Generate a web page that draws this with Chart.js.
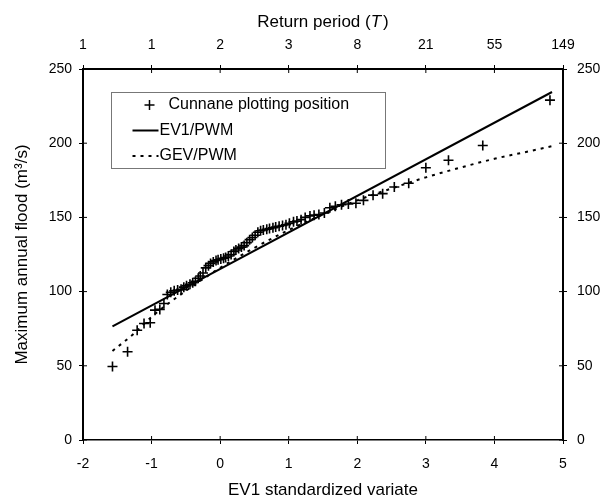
<!DOCTYPE html>
<html>
<head>
<meta charset="utf-8">
<script src="https://cdn.jsdelivr.net/npm/chart.js@4/dist/chart.umd.min.js"></script>
<style>
  html, body { margin: 0; padding: 0; background: #fff; }
  #wrap { width: 614px; height: 504px; }
</style>
</head>
<body>
<div id="wrap"><canvas id="floodChart" width="614" height="504"></canvas></div>
<script>
// EV1 reduced variate of each Cunnane plotting position
const plotPosX = [-1.57, -1.35, -1.21, -1.11, -1.02, -0.95, -0.88, -0.82, -0.77, -0.72,
  -0.67, -0.62, -0.57, -0.53, -0.49, -0.44, -0.40, -0.36, -0.32, -0.29,
  -0.25, -0.21, -0.17, -0.14, -0.10, -0.06, -0.03, 0.01, 0.05, 0.08,
  0.12, 0.16, 0.20, 0.23, 0.27, 0.31, 0.35, 0.39, 0.43, 0.47,
  0.51, 0.55, 0.59, 0.63, 0.68, 0.72, 0.77, 0.81, 0.86, 0.91,
  0.96, 1.01, 1.07, 1.12, 1.18, 1.24, 1.31, 1.37, 1.44, 1.52,
  1.60, 1.68, 1.77, 1.87, 1.98, 2.09, 2.23, 2.37, 2.54, 2.75,
  3.00, 3.33, 3.83, 4.81];
// observed annual maximum flood (m3/s), sorted
const annualFlood = [49.5, 59.5, 74, 78.5, 79, 87.5, 88, 92, 98, 99.5,
  100.5, 101, 101.5, 103, 104, 105, 106, 107, 109, 110.5,
  112.5, 116, 117.5, 119, 120, 121, 121.5, 122, 122.5, 123,
  124, 125, 127, 128, 129, 130, 131, 133, 135, 136.5,
  138, 140, 141, 141.5, 142, 142.5, 143, 143.5, 144, 144.5,
  145, 146, 147, 147.5, 148.5, 150, 151, 151.5, 152, 153,
  156.5, 157.5, 158.5, 159, 159.5, 161.5, 165, 166, 170.5, 173,
  183.5, 188.5, 198.5, 229];

// fitted distributions
const ev1X = [-1.57, 4.84];
const ev1Flow = [76.5, 234.5];
const gevX = [-1.57, -1.25, -1, -0.5, 0, 0.5, 1, 1.5, 2, 2.5, 3, 3.5, 4, 4.5, 4.84];
const gevFlow = [60, 72, 83, 100.5, 116, 129.5, 141.5, 152, 161.5, 169.5, 177, 183.5, 189.5, 194.5, 198];

const variateTicks = [-2, -1, 0, 1, 2, 3, 4, 5];
const returnPeriodLabels = ['1', '1', '2', '3', '8', '21', '55', '149'];
const flowTicks = [0, 50, 100, 150, 200, 250];

const FONT = 'Liberation Sans, Arial, sans-serif';

const pts = (xs, ys) => xs.map((x, i) => ({ x: x, y: ys[i] }));

const tickFont = { family: FONT, size: 14 };
const titleFont = { family: FONT, size: 17 };

function axisGrid() {
  return { drawOnChartArea: false, drawTicks: true, tickLength: 4, color: '#000', lineWidth: 1 };
}

// tick marks that cross the axis lines, top title with italic T, boxed legend
const extras = {
  id: 'extras',
  afterDraw(chart) {
    const ctx = chart.ctx;
    const a = chart.chartArea;
    const s = chart.scales;
    ctx.save();
    ctx.strokeStyle = '#000';
    ctx.lineWidth = 1;
    ctx.beginPath();
    variateTicks.forEach(v => {
      const px = s.x.getPixelForValue(v);
      ctx.moveTo(px, a.bottom); ctx.lineTo(px, a.bottom - 4);
      ctx.moveTo(px, a.top); ctx.lineTo(px, a.top + 4);
    });
    flowTicks.forEach(v => {
      const py = s.y.getPixelForValue(v);
      ctx.moveTo(a.left, py); ctx.lineTo(a.left + 4, py);
      ctx.moveTo(a.right, py); ctx.lineTo(a.right - 4, py);
    });
    ctx.stroke();

    // top title
    ctx.fillStyle = '#000';
    ctx.textBaseline = 'middle';
    const p1 = 'Return period (', p2 = 'T', p3 = ')';
    ctx.font = '17px ' + FONT;
    const w1 = ctx.measureText(p1).width, w3 = ctx.measureText(p3).width;
    ctx.font = 'italic 17px ' + FONT;
    const w2 = ctx.measureText(p2).width;
    const tx = (a.left + a.right) / 2 - (w1 + w2 + w3 + 2) / 2;
    const ty = 22;
    ctx.textAlign = 'left';
    ctx.font = '17px ' + FONT;
    ctx.fillText(p1, tx, ty);
    ctx.font = 'italic 17px ' + FONT;
    ctx.fillText(p2, tx + w1, ty);
    ctx.font = '17px ' + FONT;
    ctx.fillText(p3, tx + w1 + w2 + 2, ty);

    // legend box
    const bx = a.left + 28.5, by = a.top + 23.5, bw = 274, bh = 76;
    ctx.fillStyle = '#fff';
    ctx.fillRect(bx, by, bw, bh);
    ctx.strokeStyle = '#777';
    ctx.strokeRect(bx, by, bw, bh);
    ctx.fillStyle = '#000';
    ctx.font = '16px ' + FONT;
    const rows = [by + 12.5, by + 38, by + 63.5];
    const ds = chart.data.datasets;
    // marker entry
    ctx.strokeStyle = '#000';
    ctx.lineWidth = 1.5;
    ctx.beginPath();
    ctx.moveTo(bx + 38 - 5, rows[0]); ctx.lineTo(bx + 38 + 5, rows[0]);
    ctx.moveTo(bx + 38, rows[0] - 5); ctx.lineTo(bx + 38, rows[0] + 5);
    ctx.stroke();
    ctx.fillText(ds[0].label, bx + 57, rows[0]);
    // line entries
    [1, 2].forEach(k => {
      ctx.beginPath();
      ctx.lineWidth = ds[k].borderWidth;
      ctx.setLineDash(ds[k].borderDash || []);
      ctx.moveTo(bx + 21, rows[k]); ctx.lineTo(bx + 47, rows[k]);
      ctx.stroke();
      ctx.setLineDash([]);
      ctx.fillText(ds[k].label, bx + 48, rows[k]);
    });
    ctx.restore();
  }
};

new Chart(document.getElementById('floodChart'), {
  type: 'scatter',
  data: {
    datasets: [
      {
        label: 'Cunnane plotting position',
        data: pts(plotPosX, annualFlood),
        pointStyle: 'cross',
        pointRadius: 5,
        pointBorderWidth: 1.6,
        borderColor: '#000',
        backgroundColor: '#000',
        showLine: false
      },
      {
        label: 'EV1/PWM',
        data: pts(ev1X, ev1Flow),
        showLine: true,
        borderColor: '#000',
        borderWidth: 2,
        pointRadius: 0
      },
      {
        label: 'GEV/PWM',
        data: pts(gevX, gevFlow),
        showLine: true,
        borderColor: '#000',
        borderWidth: 2,
        borderDash: [3, 5],
        cubicInterpolationMode: 'monotone',
        pointRadius: 0
      }
    ]
  },
  options: {
    responsive: false,
    devicePixelRatio: 1,
    animation: false,
    layout: { padding: 0 },
    plugins: { legend: { display: false }, tooltip: { enabled: false } },
    scales: {
      x: {
        type: 'linear', position: 'bottom', min: -2, max: 5,
        afterBuildTicks: s => { s.ticks = variateTicks.map(v => ({ value: v })); },
        ticks: { font: tickFont, color: '#000', padding: 12, maxRotation: 0 },
        grid: axisGrid(),
        border: { display: true, color: '#000', width: 1.5 },
        title: { display: true, text: 'EV1 standardized variate', font: titleFont, color: '#000', padding: { top: 0, bottom: 3 } },
        afterFit: s => { s.height = 64; }
      },
      x2: {
        type: 'linear', position: 'top', min: -2, max: 5,
        afterBuildTicks: s => { s.ticks = variateTicks.map(v => ({ value: v })); },
        ticks: {
          font: tickFont, color: '#000', padding: 11, maxRotation: 0,
          callback: v => returnPeriodLabels[variateTicks.indexOf(v)]
        },
        grid: axisGrid(),
        border: { display: true, color: '#000', width: 2 },
        afterFit: s => { s.height = 69; }
      },
      y: {
        type: 'linear', position: 'left', min: 0, max: 250,
        afterBuildTicks: s => { s.ticks = flowTicks.map(v => ({ value: v })); },
        ticks: { font: tickFont, color: '#000', padding: 7 },
        grid: axisGrid(),
        border: { display: true, color: '#000', width: 2 },
        title: { display: true, text: 'Maximum annual flood (m³/s)', font: titleFont, color: '#000', padding: { top: 12, bottom: 0 } },
        afterFit: s => { s.width = 83; }
      },
      y2: {
        type: 'linear', position: 'right', min: 0, max: 250,
        afterBuildTicks: s => { s.ticks = flowTicks.map(v => ({ value: v })); },
        ticks: { font: tickFont, color: '#000', padding: 10 },
        grid: axisGrid(),
        border: { display: true, color: '#000', width: 2 },
        afterFit: s => { s.width = 51; }
      }
    }
  },
  plugins: [extras]
});
</script>
</body>
</html>
